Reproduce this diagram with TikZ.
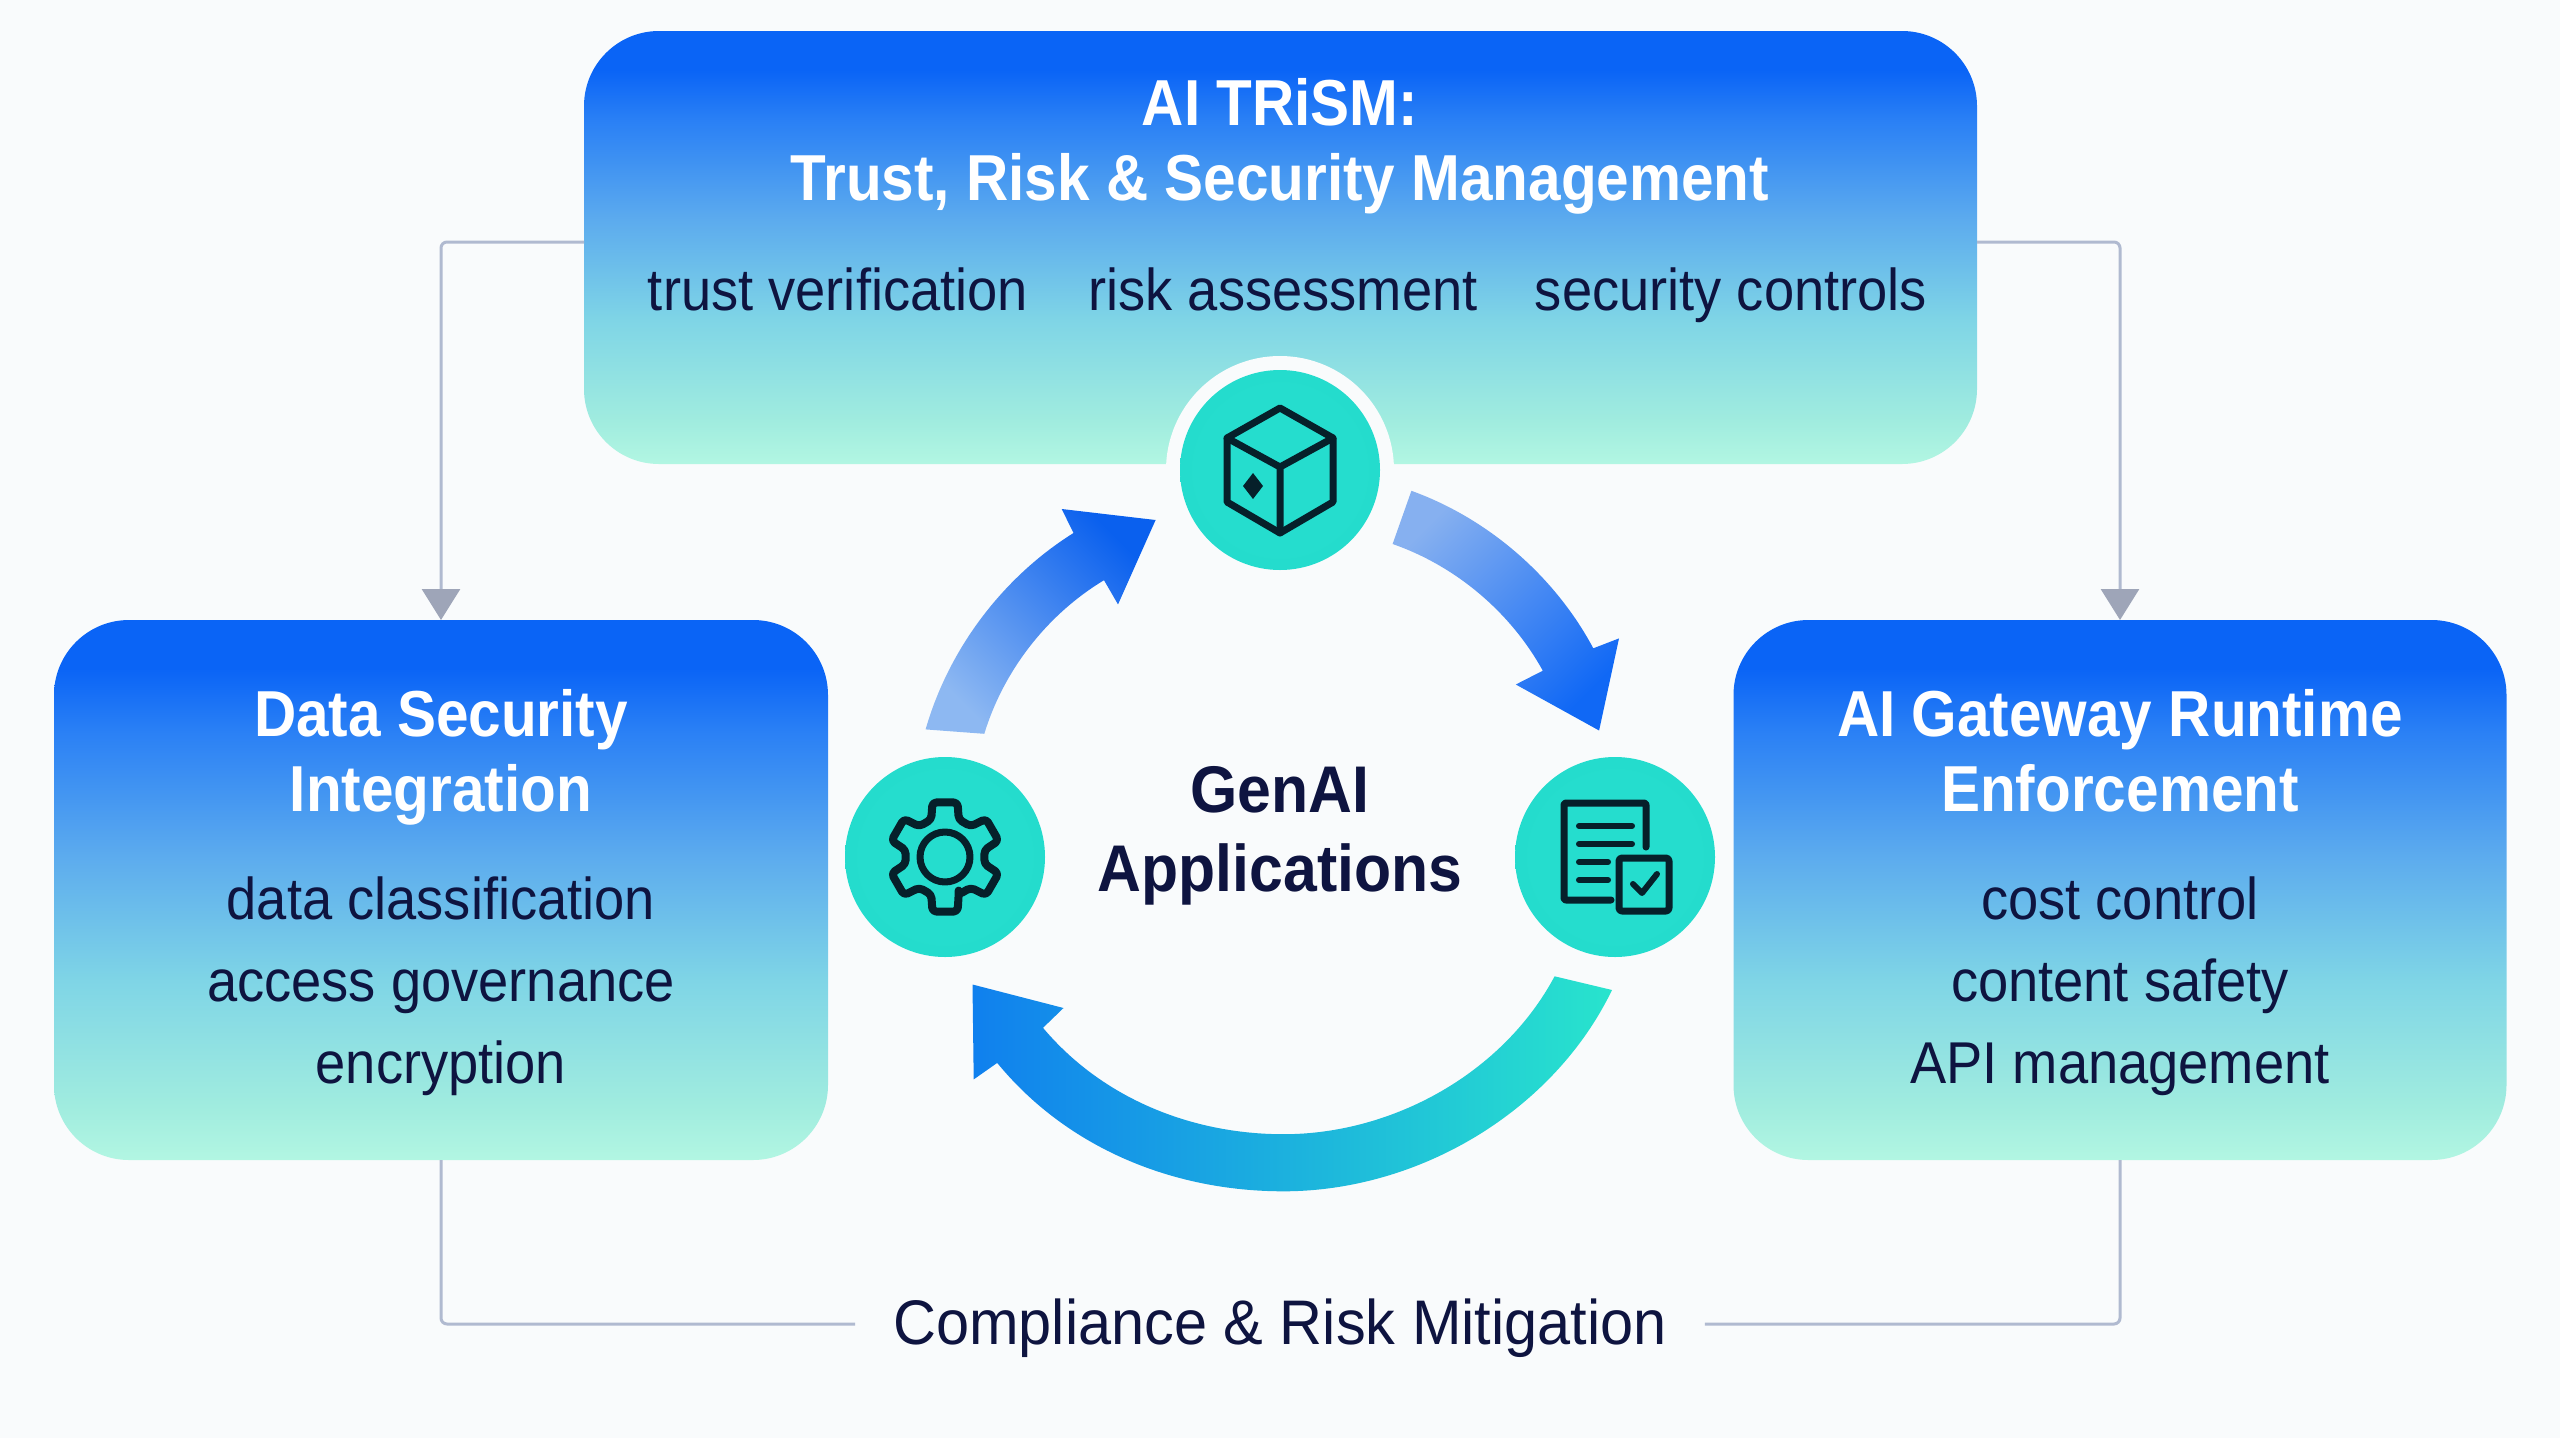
\documentclass[tikz,border=0pt]{standalone}
\usepackage{fontspec}
\setmainfont{Liberation Sans}
\newfontfamily\titlefont{Liberation Sans}[FakeStretch=0.90]
\newfontfamily\hubfont{Liberation Sans}[FakeStretch=0.92]
\newfontfamily\bodyfont{Liberation Sans}[FakeStretch=0.92]
\newfontfamily\capfont{Liberation Sans}[FakeStretch=0.944]
\usetikzlibrary{arrows.meta}
\definecolor{bgc}{HTML}{F9FBFC}
\definecolor{inkc}{HTML}{0E1440}
\definecolor{iconc}{HTML}{06202A}
\definecolor{linec}{HTML}{B0BAD0}
\definecolor{tipc}{HTML}{9EA5B8}
\definecolor{gA}{HTML}{0A64F6}
\definecolor{gB}{HTML}{2A80F5}
\definecolor{gC}{HTML}{5CABEE}
\definecolor{gD}{HTML}{7FD5E6}
\definecolor{gE}{HTML}{A0ECDF}
\definecolor{gF}{HTML}{B2F6E2}
\definecolor{tealA}{HTML}{25DDCE}
\definecolor{tealB}{HTML}{1ED6C6}
\definecolor{arrAh}{HTML}{0A60EE}
\definecolor{arrAt}{HTML}{8DB8F2}
\definecolor{arrBh}{HTML}{1068F5}
\definecolor{arrBt}{HTML}{86B0F0}
\definecolor{arrCh}{HTML}{1080EE}
\definecolor{arrCm}{HTML}{22B8E2}
\definecolor{arrCt}{HTML}{28E4CD}
\pgfdeclareverticalshading{boxgrad}{100bp}{color(0bp)=(gF);color(25bp)=(gF);color(30bp)=(gE);color(41.6bp)=(gD);color(53.2bp)=(gC);color(64.7bp)=(gB);color(70.5bp)=(gA);color(100bp)=(gA)}
\pgfdeclareradialshading{discgrad}{\pgfpointorigin}{color(0bp)=(tealA);color(20bp)=(tealA);color(50bp)=(tealB)}
\tikzset{
  panel/.style={rectangle,rounded corners=75pt,shading=boxgrad,draw=none,outer sep=0pt,inner sep=0pt},
  disc/.style={circle,minimum size=200pt,inner sep=0pt,shading=discgrad,outer sep=0pt},
  ringc/.style={fill=bgc,draw=none},
  titletext/.style={text=white,align=center,inner sep=0pt,font=\titlefont\bfseries\fontsize{65}{75}\selectfont},
  bodytext/.style={text=inkc,align=center,inner sep=0pt,font=\bodyfont\fontsize{59}{82}\selectfont},
  toptext/.style={text=inkc,inner sep=0pt,font=\bodyfont\fontsize{59}{66}\selectfont},
  centertext/.style={text=inkc,align=center,inner sep=0pt,font=\hubfont\bfseries\fontsize{66}{79}\selectfont},
  conn/.style={draw=linec,line width=3pt,rounded corners=6pt},
  connarrow/.style={conn,-{Triangle[length=31pt,width=38pt,color=tipc]}},
  iconline/.style={draw=iconc,line width=7pt,line join=round,line cap=round},
  iconthin/.style={draw=iconc,line width=6pt,line join=round,line cap=round},
}
\begin{document}
\begin{tikzpicture}[x=1pt,y=-1pt]
\path[use as bounding box,fill=bgc] (0,0) rectangle (2560,1438);
% panels
\node[panel,minimum width=1393pt,minimum height=433pt] (boxtop) at (1280.5,247.5) {};
\node[panel,minimum width=774pt,minimum height=540pt] (boxleft) at (441,890) {};
\node[panel,minimum width=773pt,minimum height=540pt] (boxright) at (2120,890) {};
% connectors
\coordinate (tl) at (584,242);
\coordinate (tr) at (1977,242);
\draw[connarrow] (tl) -| (boxleft.north);
\draw[connarrow] (tr) -| (boxright.north);
\node[text=inkc,font=\capfont\fontsize{63}{100}\selectfont,inner xsep=38pt,inner ysep=0pt] (cap) at (1280,1324) {\strut Compliance \& Risk Mitigation};
\draw[conn] (boxleft.south) |- (cap.west);
\draw[conn] (boxright.south) |- (cap.east);
% panel text
\node[titletext] (ttop) at (1280,147.5) {\strut AI TRiSM:\\\strut Trust, Risk \& Security Management};
\node[toptext] (t1) at (838,296.8) {\strut trust verification};
\node[toptext] (t2) at (1283,296.8) {\strut risk assessment};
\node[toptext] (t3) at (1731,296.8) {\strut security controls};
\node[titletext] (tleft) at (441,759) {\strut Data Security\\\strut Integration};
\node[bodytext] (bleft) at (441,985) {\strut data classification\\access governance\\\strut encryption};
\node[titletext] (tright) at (2120,759) {\strut AI Gateway Runtime\\\strut Enforcement};
\node[bodytext] (bright) at (2120,985) {\strut cost control\\content safety\\\strut API management};
\node[centertext] (genai) at (1280,835.7) {\strut GenAI\\\strut Applications};
% cycle arrows
\shade[top color=arrAh,bottom color=arrAt,shading angle=-45]
  (925.6,729.4) to[bend left=21,looseness=.87] (1073.5,533) -- (1061.7,509) -- (1155.6,520) -- (1118,604.4) -- (1104,580.2)
  to[bend right=21,looseness=.87] (984.3,733.8) -- cycle;
\shade[top color=arrBh,bottom color=arrBt,shading angle=-135]
  (1411.4,490.8) to[bend left=21,looseness=.87] (1593.3,648.3) -- (1619,638.4) -- (1599.1,730.5) -- (1515.8,684.5) -- (1542.8,670.7)
  to[bend right=21,looseness=.87] (1392.6,544) -- cycle;
\shade[left color=arrCh,middle color=arrCm,right color=arrCt]
  (1612,990) .. controls (1553,1112) and (1418,1191.3) .. (1283.5,1191.3)
  .. controls (1173,1191.3) and (1067,1148) .. (997.2,1062.9)
  -- (973.7,1079.4) -- (972.5,984.5) -- (1063.5,1008) -- (1043,1027.8)
  .. controls (1102,1098) and (1191,1134.2) .. (1283.5,1134.2)
  .. controls (1393,1134.2) and (1503,1073) .. (1554.6,976.3) -- cycle;
% discs
\fill[ringc] (1280,470) circle[radius=114];
\node[disc] (ctop) at (1280,470) {};
\node[disc] (cleft) at (945,857) {};
\node[disc] (cright) at (1615,857) {};
% cube icon
\draw[iconline] (1280,408) -- (1333,438) -- (1333,502) -- (1280,533) -- (1227,502) -- (1227,438) -- cycle;
\draw[iconline] (1227,438) -- (1280,467) -- (1333,438) (1280,467) -- (1280,533);
\fill[iconc] (1253,473) -- (1263,486) -- (1253,499) -- (1243,486) -- cycle;
% gear icon
\begin{scope}[shift={(945,857)}]
\draw[iconline,line width=8pt,rounded corners=4pt] (70:40)
  \foreach \a in {90,150,210,270,330,390} { -- ({\a-20}:40) -- ({\a-13}:56) -- ({\a+13}:56) -- ({\a+20}:40) } -- cycle;
\draw[iconline] (0,0) circle[radius=25];
\end{scope}
% document icon
\draw[iconline,rounded corners=2pt] (1646,847) -- (1646,803) -- (1564,803) -- (1564,900) -- (1611,900);
\draw[iconthin] (1579,826) -- (1632,826) (1579,844) -- (1632,844) (1579,862) -- (1608,862) (1579,880) -- (1608,880);
\draw[iconline,rounded corners=3pt] (1619,858) rectangle (1669,911);
\draw[iconthin] (1633,884) -- (1642,893) -- (1657,874);
\end{tikzpicture}
\end{document}
